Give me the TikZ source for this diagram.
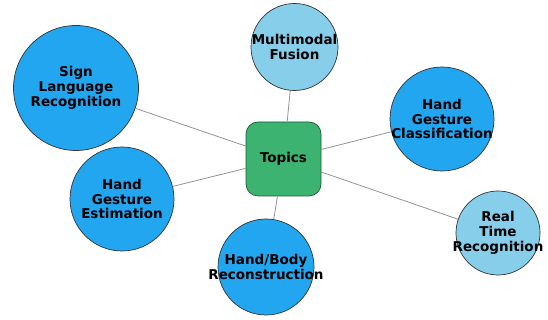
\documentclass[tikz,border=0pt]{standalone}
\usepackage{fontspec}
\usepackage{xcolor}
\newfontfamily\topicfont{DejaVu Sans}
\definecolor{topicblue}{RGB}{34,166,240}
\definecolor{topicsky}{RGB}{135,206,235}
\definecolor{topicgreen}{RGB}{60,179,113}
\tikzset{
  topictext/.style={font=\topicfont\bfseries\fontsize{13.5}{14.8}\selectfont,align=center,text=black},
  topiccircle/.style={circle,draw=black!80,line width=0.7pt,inner sep=0pt,minimum size=#1},
  topicedge/.style={draw=black!42,line width=0.8pt}
}

\begin{document}
\begin{tikzpicture}[x=1pt,y=1pt]
\useasboundingbox (0,0) rectangle (548,320);
\node[topiccircle=125pt,fill=topicblue,label={[topictext]center:{Sign\\Language\\Recognition}}] (slr) at (76,232) {};
\node[topiccircle=87pt,fill=topicsky,label={[topictext]center:{Multimodal\\Fusion}}] (mmf) at (294.5,273) {};
\node[topiccircle=104pt,fill=topicblue,label={[topictext]center:{Hand\\Gesture\\Classification}}] (hgc) at (442,201) {};
\node[topiccircle=104pt,fill=topicblue,label={[topictext]center:{Hand\\Gesture\\Estimation}}] (hge) at (122,121) {};
\node[topiccircle=96pt,fill=topicblue,label={[topictext]center:{Hand/Body\\Reconstruction}}] (hbr) at (266,53) {};
\node[topiccircle=84pt,fill=topicsky,label={[topictext]center:{Real\\Time\\Recognition}}] (rtr) at (498,87) {};
\node[topictext,draw=topicgreen!50!black,line width=0.7pt,fill=topicgreen,rounded corners=12pt,minimum width=75pt,minimum height=74pt] (topics) at (283.5,161) {Topics};

\draw[topicedge] (topics) -- (slr);
\draw[topicedge] (topics) -- (mmf);
\draw[topicedge] (topics) -- (hgc);
\draw[topicedge] (topics) -- (hge);
\draw[topicedge] (topics) -- (hbr);
\draw[topicedge] (topics) -- (rtr);

\end{tikzpicture}
\end{document}
